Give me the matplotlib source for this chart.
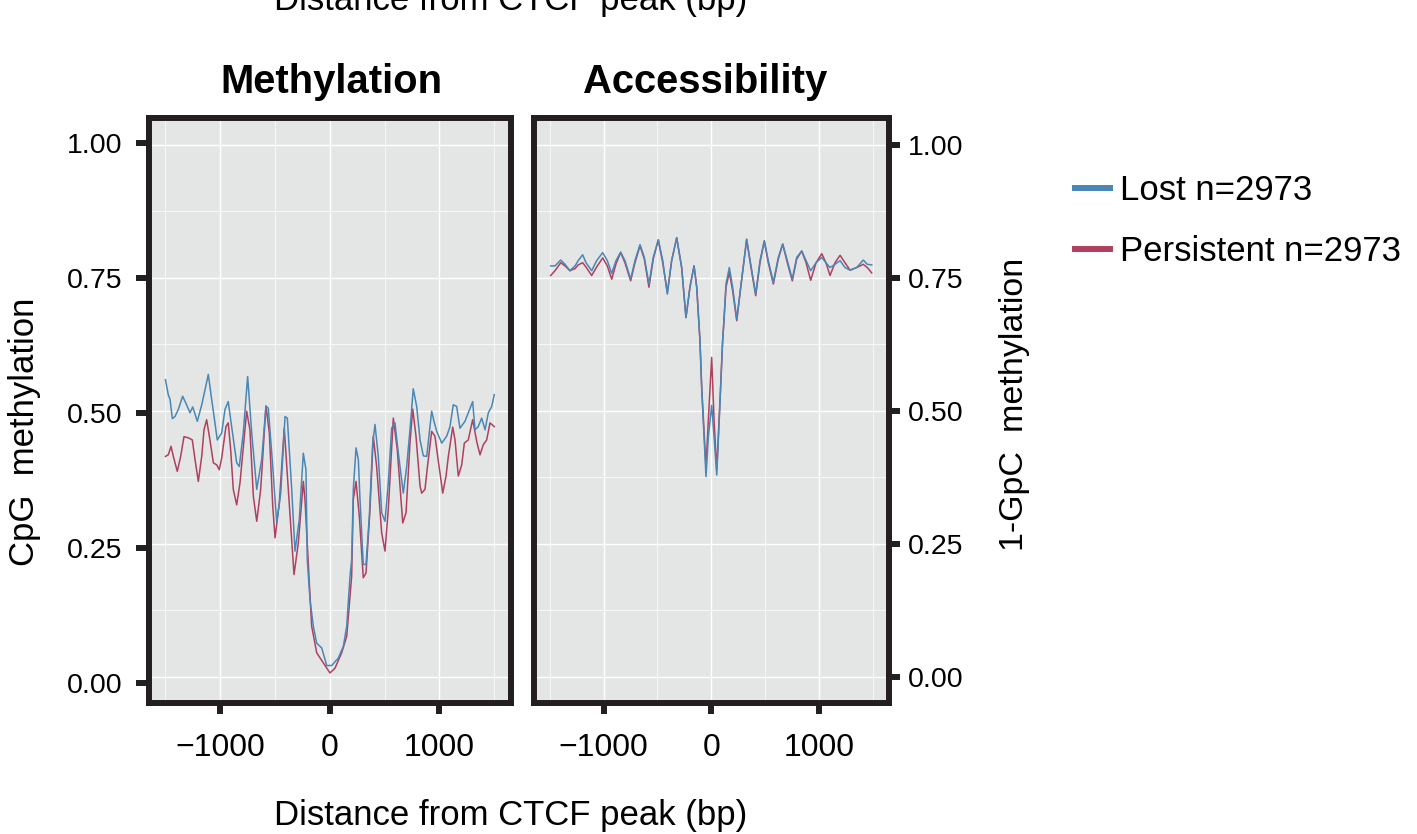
import matplotlib
matplotlib.use("Agg")
import matplotlib.pyplot as plt
from matplotlib.lines import Line2D

# ---------------- data ----------------
series_names = ["Lost n=2973", "Persistent n=2973"]
panel_titles = ["Methylation", "Accessibility"]

x_ticks = [-1000, 0, 1000]
x_tick_labels = ["\u22121000", "0", "1000"]
x_minor = [-1500, -500, 500, 1500]
y_ticks = [0.0, 0.25, 0.5, 0.75, 1.0]
y_tick_labels = ["0.00", "0.25", "0.50", "0.75", "1.00"]
y_minor = [0.125, 0.375, 0.625, 0.875]

# Methylation panel (CpG methylation)
meth_lost_x = [-1500, -1474, -1458, -1437, -1413, -1383, -1343, -1307, -1276, -1251,
               -1209, -1169, -1139, -1109, -1078, -1027, -987, -957, -927, -896,
               -850, -826, -790, -750, -713, -667, -622, -583, -562, -521,
               -485, -448, -409, -388, -348, -318, -279, -242, -218, -206,
               -181, -151, -120, -74, -29, 17, 77, 123, 154, 184,
               199, 214, 239, 260, 275, 305, 330, 360, 391, 412,
               442, 473, 503, 533, 564, 594, 625, 670, 701, 731,
               761, 792, 823, 853, 884, 907, 929, 950, 975, 1021,
               1066, 1096, 1126, 1157, 1187, 1233, 1263, 1303, 1324, 1354,
               1385, 1416, 1446, 1477, 1500]
meth_lost_y = [.558, .530, .521, .485, .489, .502, .527, .511, .496, .507,
               .480, .511, .539, .568, .521, .445, .458, .502, .517, .470,
               .402, .395, .458, .564, .458, .352, .408, .508, .505, .395,
               .289, .345, .489, .486, .352, .236, .295, .420, .389, .220,
               .145, .095, .063, .054, .021, .021, .035, .057, .095, .189,
               .220, .352, .430, .408, .333, .211, .211, .301, .439, .474,
               .414, .308, .292, .364, .467, .477, .420, .345, .395, .464,
               .541, .508, .445, .415, .414, .458, .499, .480, .461, .439,
               .452, .470, .511, .508, .467, .480, .496, .517, .464, .470,
               .486, .464, .496, .508, .530]

meth_pers_x = [-1500, -1474, -1449, -1428, -1392, -1361, -1331, -1292, -1255, -1230,
               -1200, -1169, -1148, -1124, -1094, -1063, -1032, -1009, -987, -948,
               -927, -905, -881, -850, -820, -759, -729, -698, -667, -631,
               -583, -552, -521, -500, -461, -416, -379, -327, -288, -242,
               -227, -181, -166, -120, -60, 1, 47, 108, 154, 199,
               214, 239, 269, 305, 330, 366, 396, 427, 473, 503,
               533, 579, 615, 665, 695, 731, 756, 786, 823, 838,
               868, 889, 929, 959, 990, 1030, 1060, 1081, 1121, 1142,
               1172, 1203, 1227, 1263, 1303, 1340, 1370, 1400, 1431, 1461,
               1500]
meth_pers_y = [.414, .417, .433, .414, .386, .414, .451, .449, .445, .408,
               .367, .414, .464, .483, .445, .402, .398, .389, .411, .470,
               .477, .427, .352, .323, .364, .499, .464, .339, .292, .352,
               .509, .458, .320, .261, .327, .467, .352, .192, .251, .367,
               .333, .151, .095, .045, .026, .007, .016, .045, .076, .189,
               .333, .367, .301, .186, .195, .314, .452, .395, .270, .236,
               .314, .486, .427, .289, .308, .439, .503, .452, .358, .345,
               .352, .392, .461, .452, .405, .345, .377, .414, .469, .445,
               .377, .398, .439, .445, .483, .442, .417, .436, .445, .477,
               .470]

# Accessibility panel (1 - GpC methylation)
acc_x = [-1492, -1452, -1399, -1359, -1313, -1266, -1236, -1195, -1164, -1111,
         -1065, -1009, -966, -925, -885, -842, -802, -749, -709, -662,
         -622, -579, -539, -492, -451, -408, -368, -321, -275, -235,
         -198, -160, -135, -105, -89, -49, -27, 4, 26, 51,
         81, 106, 118, 137, 168, 199, 237, 274, 329, 367,
         413, 453, 493, 530, 577, 623, 664, 707, 753, 794,
         841, 881, 924, 974, 1027, 1066, 1104, 1150, 1197, 1243,
         1290, 1352, 1413, 1450, 1491]
acc_lost_y = [.772, .772, .783, .775, .763, .772, .782, .793, .778, .763,
              .782, .797, .782, .758, .782, .798, .782, .747, .782, .812,
              .788, .738, .788, .821, .782, .719, .782, .825, .769, .675,
              .732, .772, .732, .632, .544, .376, .451, .510, .451, .379,
              .513, .632, .669, .738, .769, .732, .672, .732, .822, .775,
              .719, .782, .819, .782, .741, .788, .813, .782, .747, .788,
              .800, .782, .763, .778, .788, .778, .769, .775, .782, .769,
              .764, .769, .783, .775, .774]
acc_pers_y = [.754, .763, .778, .772, .763, .767, .774, .778, .770, .754,
              .770, .787, .772, .747, .776, .797, .778, .744, .778, .810,
              .785, .732, .785, .821, .778, .722, .782, .825, .769, .675,
              .732, .772, .732, .632, .544, .394, .482, .600, .482, .388,
              .519, .632, .669, .732, .760, .725, .669, .732, .822, .772,
              .716, .778, .819, .778, .738, .785, .813, .778, .744, .785,
              .800, .778, .745, .778, .795, .778, .754, .778, .792, .778,
              .764, .769, .775, .769, .759]

# ---------------- style ----------------
plt.rcParams['font.family'] = ['Liberation Sans', 'DejaVu Sans']
COL_LOST = '#4a87b5'
COL_PERS = '#b0405f'
PANEL_BG = '#e4e5e5'
DARK = '#231f20'

W, H = 1417, 834
fig = plt.figure(figsize=(W / 100, H / 100), dpi=100)


def px_rect(x0, y0, x1, y1):
    return [x0 / W, 1 - y1 / H, (x1 - x0) / W, (y1 - y0) / H]


rect1 = px_rect(149, 118, 510.7, 703.3)
rect2 = px_rect(533.7, 118, 888.8, 703.3)
ax1 = fig.add_axes(rect1)
ax2 = fig.add_axes(rect2)

for ax in (ax1, ax2):
    ax.set_facecolor(PANEL_BG)
    ax.set_xlim(-1650, 1650)
    ax.set_ylim(-0.05, 1.05)
    ax.set_xticks(x_ticks)
    ax.set_xticklabels(x_tick_labels)
    ax.set_xticks(x_minor, minor=True)
    ax.set_yticks(y_ticks)
    ax.set_yticklabels(y_tick_labels)
    ax.set_yticks(y_minor, minor=True)
    ax.grid(which='major', color='white', lw=1.0)
    ax.grid(which='minor', color='white', lw=0.5)
    ax.set_axisbelow(True)
    for s in ax.spines.values():
        s.set_linewidth(4.3)
        s.set_color(DARK)
        s.set_zorder(5)
    ax.tick_params(which='minor', length=0)
    ax.tick_params(axis='x', which='major', length=7.7, width=4.3, color=DARK,
                   labelsize=23, labelcolor='black', pad=14)
    ax.tick_params(axis='y', which='major', length=7.6, width=4.3, color=DARK,
                   labelsize=20.5, labelcolor='black', pad=6)

# left panel: its y-axis ticks sit on a slightly shifted scale (as in the reference)
ax1.tick_params(axis='y', left=False, labelleft=False)
axL = fig.add_axes(rect1, frameon=False)
axL.set_xlim(-1650, 1650)
axL.set_ylim(-0.0376, 1.0463)
axL.set_xticks([])
axL.set_yticks(y_ticks)
axL.set_yticklabels(y_tick_labels)
axL.patch.set_visible(False)
axL.tick_params(axis='y', length=9.4, width=4.3, color=DARK, labelsize=20.5,
                labelcolor='black', pad=9.5)

ax2.yaxis.tick_right()

ax1.plot(meth_lost_x, meth_lost_y, color=COL_LOST, lw=1.1, zorder=3)
ax1.plot(meth_pers_x, meth_pers_y, color=COL_PERS, lw=1.1, zorder=2)
ax2.plot(acc_x, acc_pers_y, color=COL_PERS, lw=1.1, zorder=2)
ax2.plot(acc_x, acc_lost_y, color=COL_LOST, lw=1.1, zorder=3)

# titles and labels
fig.text(331.5 / W, 1 - 82 / H, panel_titles[0], fontsize=28.8, fontweight='bold',
         ha='center', va='center')
fig.text(705 / W, 1 - 82 / H, panel_titles[1], fontsize=28.8, fontweight='bold',
         ha='center', va='center')
fig.text(511 / W, 1 - 815 / H, "Distance from CTCF peak (bp)", fontsize=25,
         ha='center', va='center')
fig.text(511 / W, 1 - 10 / H, "Distance from CTCF peak (bp)", fontsize=25,
         ha='center', va='baseline')
fig.text(25 / W, 1 - 432 / H, "CpG  methylation", fontsize=25, rotation=90,
         ha='center', va='center')
fig.text(1015 / W, 1 - 404 / H, "1-GpC  methylation", fontsize=24.5, rotation=90,
         ha='center', va='center')

handles = [Line2D([], [], color=COL_LOST, lw=4.3),
           Line2D([], [], color=COL_PERS, lw=4.3)]
fig.legend(handles, series_names, loc='upper left',
           bbox_to_anchor=(1075 / W, 1 - 174 / H), frameon=False,
           fontsize=25, handlelength=1.0, handletextpad=0.3,
           labelspacing=0.8, borderpad=0, borderaxespad=0)

fig.savefig('out.png', dpi=100)
